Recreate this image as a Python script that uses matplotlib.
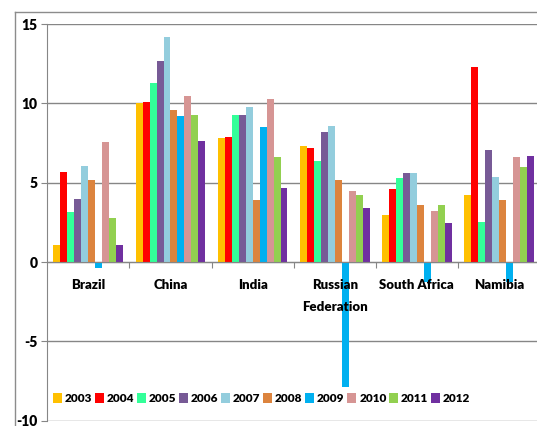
import numpy as np
import matplotlib.pyplot as plt
from matplotlib.lines import Line2D

# GDP growth (%) by country and year
countries = ["Brazil", "China", "India", "Russian\nFederation", "South Africa", "Namibia"]
years = ["2003", "2004", "2005", "2006", "2007", "2008", "2009", "2010", "2011", "2012"]

growth_2003 = [1.1, 10.0, 7.8, 7.3, 2.95, 4.2]
growth_2004 = [5.7, 10.1, 7.9, 7.2, 4.6, 12.3]
growth_2005 = [3.15, 11.3, 9.3, 6.35, 5.3, 2.5]
growth_2006 = [3.95, 12.7, 9.25, 8.2, 5.6, 7.05]
growth_2007 = [6.05, 14.2, 9.8, 8.55, 5.6, 5.35]
growth_2008 = [5.15, 9.6, 3.9, 5.2, 3.6, 3.9]
growth_2009 = [-0.35, 9.2, 8.5, -7.85, -1.25, -1.25]
growth_2010 = [7.55, 10.45, 10.25, 4.5, 3.2, 6.6]
growth_2011 = [2.75, 9.3, 6.6, 4.2, 3.6, 6.0]
growth_2012 = [1.05, 7.65, 4.7, 3.4, 2.45, 6.7]

series = [growth_2003, growth_2004, growth_2005, growth_2006, growth_2007,
          growth_2008, growth_2009, growth_2010, growth_2011, growth_2012]
colors = ["#FFC000", "#FF0000", "#33FF99", "#775A96", "#93CDDD",
          "#DC843E", "#00B0F0", "#D69594", "#92D050", "#7030A0"]

plt.rcParams['font.family'] = ['Lato', 'DejaVu Sans']
plt.rcParams['font.weight'] = 'heavy'
plt.rcParams['font.size'] = 10
plt.rcParams['axes.unicode_minus'] = False

grid_col = "#868686"

fig = plt.figure(figsize=(5.37, 4.26), dpi=100)
ax = fig.add_axes([0.0881, 0.0124, 0.9175, 0.931])

x = np.arange(len(countries))
width = 0.085
for i, (vals, col) in enumerate(zip(series, colors)):
    offs = (i - 4.5) * width
    ax.bar(x + offs, vals, width, color=col, label=years[i], zorder=2)

ax.set_xlim(-0.5, len(countries) - 0.5)
ax.set_ylim(-10, 15)
ax.set_yticks(np.arange(-10, 16, 5))
ax.yaxis.grid(True, color=grid_col, linewidth=1)
ax.set_axisbelow(True)

# category labels between the boundary ticks on the zero line
ax.spines['bottom'].set_position(('data', 0))
ax.spines['bottom'].set_color(grid_col)
ax.spines['left'].set_color(grid_col)
ax.spines['top'].set_visible(False)
ax.spines['right'].set_visible(False)
ax.set_xticks(x[:-1] + 0.5)
ax.set_xticklabels([])
ax.set_xticks(x, minor=True)
ax.set_xticklabels(countries, minor=True, fontsize=9.5)
ax.tick_params(axis='x', which='major', direction='out', length=4, color=grid_col)
ax.tick_params(axis='x', which='minor', length=0, pad=12)
ax.tick_params(axis='y', direction='out', length=4, color=grid_col, pad=3)
for lab in ax.get_xticklabels(minor=True):
    lab.set_linespacing(2.05)
ax.xaxis.set_zorder(3)

ax.legend(loc='center left', bbox_to_anchor=(0.012, 0.056), ncol=10,
          frameon=False, handlelength=0.76, handleheight=0.95,
          handletextpad=0.25, columnspacing=0.22, borderpad=0,
          borderaxespad=0, fontsize=8.5)

# outer chart frame
fig.add_artist(Line2D([0.028, 0.028], [0, 0.971], color="#8c8c8c", lw=1))
fig.add_artist(Line2D([0.028, 1], [0.971, 0.971], color="#8c8c8c", lw=1))

fig.savefig("out.png", dpi=100)
